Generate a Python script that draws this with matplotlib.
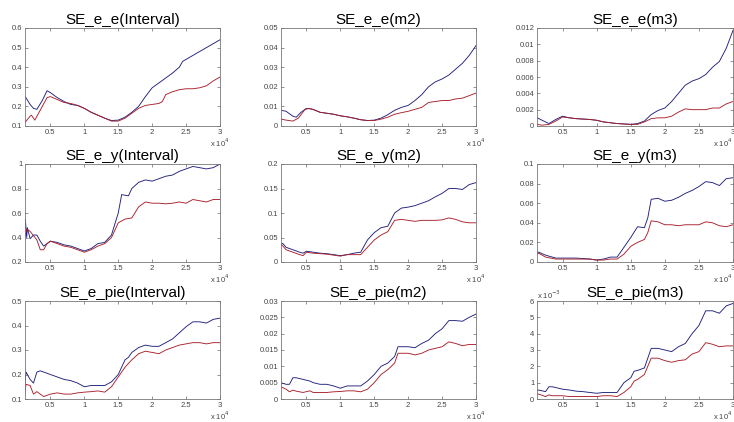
import numpy as np
from matplotlib import pyplot as plt
from matplotlib.ticker import FuncFormatter

# x positions are in units of 10^4 (as on the axes)

# SE_e_e(Interval)
x_ee_int = [0.13, 0.2, 0.25, 0.3, 0.38, 0.45, 0.5, 0.6, 0.7, 0.8, 0.9, 1.0, 1.1, 1.2, 1.3, 1.4, 1.5, 1.6, 1.7, 1.8, 1.9,
            2.0, 2.1, 2.2, 2.3, 2.4, 2.45, 2.5, 2.6, 2.7, 2.8, 2.9, 3.0]
blue_ee_int = [0.249, 0.21, 0.19, 0.185, 0.23, 0.28, 0.27, 0.245, 0.225, 0.21, 0.205, 0.19, 0.17, 0.155, 0.14, 0.128,
               0.13, 0.145, 0.17, 0.2, 0.25, 0.295, 0.32, 0.345, 0.37, 0.4, 0.43, 0.44, 0.46, 0.48, 0.5, 0.52, 0.54]
x_ee_int_r = [0.13, 0.2, 0.22, 0.27, 0.38, 0.45, 0.5, 0.6, 0.7, 0.8, 0.9, 1.0, 1.1, 1.2, 1.3, 1.4, 1.5, 1.6, 1.7, 1.8,
              1.9, 2.0, 2.1, 2.15, 2.2, 2.3, 2.4, 2.5, 2.6, 2.7, 2.8, 2.9, 3.0]
red_ee_int = [0.12, 0.15, 0.155, 0.13, 0.2, 0.245, 0.25, 0.235, 0.22, 0.215, 0.205, 0.19, 0.17, 0.155, 0.14, 0.125,
              0.125, 0.14, 0.165, 0.19, 0.205, 0.21, 0.215, 0.225, 0.26, 0.275, 0.285, 0.29, 0.29, 0.295, 0.305, 0.33, 0.35]

# SE_e_e(m2)
x_ee_m2 = [0.13, 0.2, 0.3, 0.35, 0.42, 0.5, 0.6, 0.7, 0.8, 0.9, 1.0, 1.1, 1.2, 1.3, 1.4, 1.5, 1.6, 1.7, 1.8, 1.9, 2.0,
           2.1, 2.2, 2.3, 2.4, 2.5, 2.6, 2.7, 2.8, 2.9, 3.0]
blue_ee_m2 = [0.008, 0.0075, 0.005, 0.0045, 0.007, 0.009, 0.0085, 0.007, 0.0065, 0.006, 0.0052, 0.0047, 0.004, 0.0032,
              0.0028, 0.003, 0.004, 0.0058, 0.008, 0.0095, 0.0105, 0.013, 0.016, 0.02, 0.0225, 0.024, 0.026, 0.029,
              0.032, 0.036, 0.041]
x_ee_m2_r = [0.13, 0.2, 0.3, 0.38, 0.48, 0.55, 0.7, 0.8, 0.9, 1.0, 1.1, 1.2, 1.3, 1.4, 1.5, 1.6, 1.7, 1.8, 1.9, 2.0,
             2.1, 2.2, 2.3, 2.4, 2.5, 2.6, 2.7, 2.8, 2.9, 3.0]
red_ee_m2 = [0.0035, 0.003, 0.0025, 0.004, 0.0085, 0.009, 0.007, 0.0065, 0.006, 0.0052, 0.0047, 0.004, 0.0032, 0.0028,
             0.0028, 0.0035, 0.0045, 0.006, 0.0068, 0.0075, 0.0085, 0.0095, 0.012, 0.0125, 0.013, 0.013, 0.0138,
             0.0142, 0.0155, 0.0168]

# SE_e_e(m3)
x_ee_m3 = [0.13, 0.2, 0.3, 0.4, 0.5, 0.6, 0.7, 0.8, 0.9, 1.0, 1.1, 1.2, 1.3, 1.4, 1.5, 1.6, 1.7, 1.8, 1.9, 2.0, 2.1,
           2.2, 2.3, 2.4, 2.5, 2.6, 2.7, 2.8, 2.9, 3.0]
blue_ee_m3 = [0.001, 0.0007, 0.0003, 0.0008, 0.0012, 0.001, 0.0009, 0.00085, 0.0008, 0.0007, 0.0005, 0.0004, 0.0003,
              0.00025, 0.0002, 0.0003, 0.0006, 0.0014, 0.0019, 0.0022, 0.003, 0.004, 0.005, 0.0055, 0.0058, 0.0063,
              0.0072, 0.0079, 0.0095, 0.0117]
red_ee_m3 = [0.0002, 0.0001, 0.0002, 0.0006, 0.0011, 0.001, 0.0009, 0.00085, 0.0008, 0.0007, 0.0005, 0.0004, 0.0003,
             0.00025, 0.0002, 0.0002, 0.0005, 0.0009, 0.001, 0.001, 0.0012, 0.0017, 0.0021, 0.002, 0.002, 0.002,
             0.0022, 0.0022, 0.0027, 0.003]

# SE_e_y(Interval)
x_ey_int = [0.12, 0.13, 0.15, 0.16, 0.2, 0.25, 0.3, 0.35, 0.4, 0.5, 0.6, 0.7, 0.8, 0.9, 1.0, 1.1, 1.2, 1.3, 1.4, 1.5,
            1.55, 1.65, 1.7, 1.8, 1.9, 2.0, 2.1, 2.2, 2.3, 2.4, 2.5, 2.6, 2.7, 2.8, 2.9, 3.0]
blue_ey_int = [0.45, 0.55, 0.4, 0.48, 0.39, 0.42, 0.42, 0.37, 0.33, 0.37, 0.36, 0.34, 0.33, 0.31, 0.29, 0.31, 0.35,
               0.36, 0.42, 0.6, 0.75, 0.74, 0.8, 0.85, 0.87, 0.86, 0.88, 0.9, 0.91, 0.94, 0.96, 0.98, 0.97, 0.96,
               0.97, 1.0]
x_ey_int_r = [0.12, 0.15, 0.2, 0.3, 0.35, 0.4, 0.45, 0.5, 0.6, 0.7, 0.8, 0.9, 1.0, 1.1, 1.2, 1.3, 1.4, 1.5, 1.6, 1.7,
              1.8, 1.9, 2.0, 2.1, 2.2, 2.3, 2.4, 2.5, 2.6, 2.7, 2.8, 2.9, 3.0]
red_ey_int = [0.4, 0.47, 0.45, 0.38, 0.3, 0.3, 0.35, 0.37, 0.35, 0.33, 0.32, 0.3, 0.28, 0.3, 0.33, 0.35, 0.4, 0.52,
              0.55, 0.56, 0.65, 0.69, 0.68, 0.68, 0.675, 0.68, 0.69, 0.68, 0.71, 0.7, 0.69, 0.71, 0.71]

# SE_e_y(m2)
x_ey_m2 = [0.12, 0.15, 0.2, 0.3, 0.4, 0.45, 0.5, 0.6, 0.7, 0.8, 0.9, 1.0, 1.1, 1.2, 1.3, 1.4, 1.5, 1.6, 1.7, 1.8, 1.9,
           2.0, 2.1, 2.2, 2.3, 2.4, 2.5, 2.6, 2.7, 2.8, 2.9, 3.0]
blue_ey_m2 = [0.035, 0.038, 0.03, 0.025, 0.02, 0.018, 0.022, 0.02, 0.018, 0.017, 0.015, 0.013, 0.015, 0.018, 0.02,
              0.045, 0.06, 0.07, 0.073, 0.1, 0.11, 0.112, 0.115, 0.12, 0.125, 0.133, 0.14, 0.15, 0.15, 0.148,
              0.158, 0.162]
red_ey_m2 = [0.035, 0.033, 0.025, 0.02, 0.015, 0.013, 0.02, 0.018, 0.017, 0.016, 0.014, 0.012, 0.015, 0.015, 0.015,
             0.03, 0.045, 0.055, 0.062, 0.085, 0.087, 0.085, 0.083, 0.085, 0.085, 0.085, 0.086, 0.09, 0.087, 0.082,
             0.08, 0.08]

# SE_e_y(m3)
x_ey_m3 = [0.12, 0.15, 0.25, 0.4, 0.5, 0.7, 0.9, 1.0, 1.1, 1.2, 1.3, 1.4, 1.5, 1.6, 1.7, 1.75, 1.8, 1.9, 2.0, 2.1,
           2.2, 2.3, 2.4, 2.5, 2.6, 2.7, 2.8, 2.9, 3.0]
blue_ey_m3 = [0.01, 0.01, 0.007, 0.004, 0.004, 0.004, 0.003, 0.002, 0.003, 0.005, 0.005, 0.015, 0.025, 0.036, 0.035,
              0.045, 0.064, 0.065, 0.062, 0.063, 0.066, 0.07, 0.073, 0.077, 0.082, 0.081, 0.078, 0.085, 0.086]
red_ey_m3 = [0.008, 0.009, 0.005, 0.003, 0.003, 0.003, 0.003, 0.002, 0.002, 0.003, 0.003, 0.008, 0.016, 0.02, 0.023,
             0.03, 0.042, 0.041, 0.038, 0.038, 0.037, 0.038, 0.038, 0.038, 0.041, 0.04, 0.037, 0.036, 0.038]

# SE_e_pie(Interval)
x_ep_int = [0.12, 0.14, 0.2, 0.25, 0.3, 0.35, 0.4, 0.5, 0.6, 0.7, 0.8, 0.9, 1.0, 1.1, 1.2, 1.3, 1.4, 1.5, 1.6, 1.65,
            1.7, 1.8, 1.9, 2.0, 2.1, 2.2, 2.3, 2.4, 2.5, 2.6, 2.7, 2.8, 2.9, 3.0]
blue_ep_int = [0.15, 0.21, 0.18, 0.165, 0.21, 0.215, 0.21, 0.2, 0.19, 0.18, 0.175, 0.165, 0.15, 0.155, 0.155, 0.155,
               0.17, 0.2, 0.26, 0.27, 0.29, 0.31, 0.32, 0.315, 0.315, 0.33, 0.345, 0.37, 0.395, 0.415, 0.415, 0.41,
               0.425, 0.43]
red_ep_int = [0.12, 0.16, 0.155, 0.12, 0.13, 0.12, 0.11, 0.12, 0.125, 0.12, 0.12, 0.125, 0.128, 0.13, 0.133, 0.128,
              0.15, 0.19, 0.23, 0.245, 0.26, 0.285, 0.295, 0.29, 0.285, 0.3, 0.31, 0.32, 0.325, 0.33, 0.33, 0.325,
              0.33, 0.33]

# SE_e_pie(m2)
x_ep_m2 = [0.12, 0.2, 0.25, 0.3, 0.35, 0.45, 0.55, 0.6, 0.7, 0.8, 0.9, 1.0, 1.1, 1.2, 1.3, 1.4, 1.5, 1.6, 1.7, 1.8,
           1.85, 1.9, 2.0, 2.1, 2.2, 2.3, 2.4, 2.5, 2.6, 2.7, 2.8, 2.9, 3.0]
blue_ep_m2 = [0.005, 0.0045, 0.0045, 0.0065, 0.0065, 0.006, 0.0055, 0.005, 0.0045, 0.0045, 0.004, 0.0033, 0.004,
              0.004, 0.004, 0.0055, 0.0075, 0.01, 0.011, 0.013, 0.016, 0.016, 0.016, 0.0157, 0.017, 0.018, 0.02,
              0.0215, 0.024, 0.024, 0.0238, 0.025, 0.026]
red_ep_m2 = [0.0038, 0.003, 0.0022, 0.0027, 0.0024, 0.002, 0.0025, 0.002, 0.002, 0.002, 0.0022, 0.0023, 0.0025,
             0.0025, 0.0022, 0.003, 0.005, 0.0075, 0.009, 0.011, 0.014, 0.014, 0.014, 0.0135, 0.014, 0.015, 0.0155,
             0.016, 0.0175, 0.017, 0.0163, 0.0167, 0.0167]

# SE_e_pie(m3)
x_ep_m3 = [0.12, 0.15, 0.25, 0.3, 0.35, 0.45, 0.5, 0.6, 0.7, 0.8, 0.9, 1.0, 1.1, 1.2, 1.3, 1.4, 1.5, 1.55, 1.6, 1.7,
           1.8, 1.9, 2.0, 2.1, 2.2, 2.3, 2.4, 2.5, 2.6, 2.7, 2.8, 2.9, 3.0]
blue_ep_m3 = [0.5e-3, 0.55e-3, 0.45e-3, 0.75e-3, 0.75e-3, 0.65e-3, 0.6e-3, 0.55e-3, 0.48e-3, 0.45e-3, 0.4e-3,
              0.35e-3, 0.4e-3, 0.4e-3, 0.4e-3, 1.0e-3, 1.3e-3, 1.7e-3, 1.75e-3, 1.9e-3, 3.1e-3, 3.1e-3, 3.0e-3,
              2.9e-3, 3.2e-3, 3.4e-3, 4.0e-3, 4.5e-3, 5.4e-3, 5.4e-3, 5.25e-3, 5.7e-3, 5.85e-3]
red_ep_m3 = [0.3e-3, 0.3e-3, 0.15e-3, 0.25e-3, 0.2e-3, 0.2e-3, 0.2e-3, 0.15e-3, 0.15e-3, 0.15e-3, 0.15e-3, 0.15e-3,
             0.2e-3, 0.2e-3, 0.15e-3, 0.4e-3, 0.75e-3, 1.1e-3, 1.2e-3, 1.5e-3, 2.5e-3, 2.5e-3, 2.35e-3, 2.25e-3,
             2.35e-3, 2.4e-3, 2.75e-3, 2.9e-3, 3.45e-3, 3.35e-3, 3.2e-3, 3.25e-3, 3.25e-3]

x_ticks = [0.5, 1, 1.5, 2, 2.5, 3]

panels = [
    ("SE_e_e(Interval)", x_ee_int, blue_ee_int, x_ee_int_r, red_ee_int, (0.1, 0.6), 0.1),
    ("SE_e_e(m2)", x_ee_m2, blue_ee_m2, x_ee_m2_r, red_ee_m2, (0, 0.05), 0.01),
    ("SE_e_e(m3)", x_ee_m3, blue_ee_m3, x_ee_m3, red_ee_m3, (0, 0.012), 0.002),
    ("SE_e_y(Interval)", x_ey_int, blue_ey_int, x_ey_int_r, red_ey_int, (0.2, 1), 0.2),
    ("SE_e_y(m2)", x_ey_m2, blue_ey_m2, x_ey_m2, red_ey_m2, (0, 0.2), 0.05),
    ("SE_e_y(m3)", x_ey_m3, blue_ey_m3, x_ey_m3, red_ey_m3, (0, 0.1), 0.02),
    ("SE_e_pie(Interval)", x_ep_int, blue_ep_int, x_ep_int, red_ep_int, (0.1, 0.5), 0.1),
    ("SE_e_pie(m2)", x_ep_m2, blue_ep_m2, x_ep_m2, red_ep_m2, (0, 0.03), 0.005),
    ("SE_e_pie(m3)", x_ep_m3, blue_ep_m3, x_ep_m3, red_ep_m3, (0, 0.006), 0.001),
]

plt.rcParams['font.family'] = ['Liberation Sans', 'DejaVu Sans']
fig = plt.figure(figsize=[7.34, 4.22], dpi=100)

lefts = [25, 281, 537]
widths = [195, 195, 196]
bottoms = [126, 262, 399]
W, H = 734.0, 422.0

for i, (title, xb, yb, xr, yr, ylim, ystep) in enumerate(panels):
    r, c = divmod(i, 3)
    ax = fig.add_axes([lefts[c] / W, 1 - bottoms[r] / H, widths[c] / W, 98 / H])
    ax.plot(np.array(xb) * 1e4, yb, color="#20207a", lw=0.65)
    ax.plot(np.array(xr) * 1e4, yr, color="#a8202c", lw=0.65)
    ax.set_xlim(1250, 30000)
    ax.set_ylim(*ylim)
    ax.set_xticks(np.array(x_ticks) * 1e4)
    ax.xaxis.set_major_formatter(FuncFormatter(lambda v, p: "%g" % (v / 1e4)))
    yt = np.arange(ylim[0], ylim[1] + ystep / 2, ystep)
    ax.set_yticks(yt)
    if i == 8:
        ax.yaxis.set_major_formatter(FuncFormatter(lambda v, p: "%g" % round(v * 1e3, 6)))
        ax.text(0.0, 1.02, r"x 10$^{-3}$", transform=ax.transAxes, fontsize=5.5, color="#444444")
    else:
        ax.yaxis.set_major_formatter(FuncFormatter(lambda v, p: "%g" % round(v, 6)))
    ax.tick_params(direction="in", length=2, width=0.5, labelsize=5.5, labelcolor="#444444", color="#666666",
                   top=True, right=True, pad=2)
    for s in ax.spines.values():
        s.set_color("#777777")
        s.set_linewidth(0.6)
    ax.set_title(title, fontsize=11, pad=3)
    # multiplier label under the x axis, kept inside the figure
    right_px = min(lefts[c] + widths[c] + 10, 733)
    fig.text(right_px / W, 1 - (bottoms[r] + 17) / H, r"x 10$^4$", fontsize=5.5, color="#444444",
             ha="right", va="center")

plt.savefig("out.png", dpi=100)
